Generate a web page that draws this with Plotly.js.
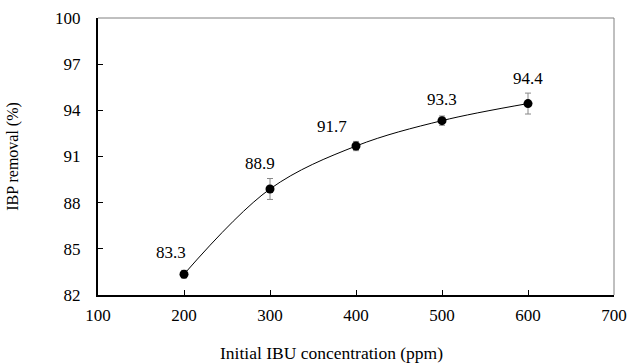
<!DOCTYPE html>
<html>
<head>
<meta charset="utf-8">
<script src="https://cdn.plot.ly/plotly-3.0.1.min.js"></script>
<style>html,body{margin:0;padding:0;background:#fff}#chart{width:628px;height:364px}</style>
</head>
<body>
<div id="chart"></div>
<script>
const concentrations = [200, 300, 400, 500, 600];
const removal = [83.35, 88.89, 91.68, 93.33, 94.44];
const errors = [0.25, 0.68, 0.3, 0.3, 0.68];
const labels = ["83.3", "88.9", "91.7", "93.3", "94.4"];
const xTicks = [100, 200, 300, 400, 500, 600, 700];
const yTicks = [82, 85, 88, 91, 94, 97, 100];
const xTitle = "Initial IBU concentration (ppm)";
const yTitle = "IBP removal (%)";

const labelShift = [[-13, 22], [-10, 25], [-24, 20], [0, 21], [0, 25]];

const font = {family: "Liberation Serif", color: "#000"};

const trace = {
  x: concentrations, y: removal, type: "scatter", mode: "lines+markers",
  line: {shape: "spline", smoothing: 1, color: "#000", width: 1},
  marker: {size: 9, color: "#000"},
  error_y: {type: "data", array: errors, visible: true, color: "#888", thickness: 1, width: 3},
  hoverinfo: "skip", showlegend: false
};

const annotations = concentrations.map((c, i) => ({
  x: c, y: removal[i], text: labels[i], showarrow: false,
  xshift: labelShift[i][0], yshift: labelShift[i][1],
  font: Object.assign({size: 17}, font)
}));
annotations.push({
  xref: "paper", yref: "paper", x: 0.4516, y: -0.209, xanchor: "center", yanchor: "middle",
  text: xTitle, showarrow: false, font: Object.assign({size: 17.5}, font)
});

const layout = {
  width: 628, height: 364,
  margin: {l: 98, r: 14, t: 18, b: 69},
  paper_bgcolor: "#fff", plot_bgcolor: "#fff",
  font: font,
  xaxis: {
    range: [100, 700], tickvals: xTicks,
    ticks: "inside", ticklen: 5, tickcolor: "#000", tickwidth: 1,
    showline: true, linecolor: "#000", linewidth: 2, mirror: false,
    showgrid: false, zeroline: false,
    tickfont: Object.assign({size: 17}, font),
    ticklabelstandoff: 4
  },
  yaxis: {
    range: [82, 100], tickvals: yTicks,
    ticks: "inside", ticklen: 5, tickcolor: "#000", tickwidth: 1,
    showline: true, linecolor: "#000", linewidth: 2,
    showgrid: false, zeroline: false,
    tickfont: Object.assign({size: 17}, font),
    ticklabelstandoff: 12,
    title: {text: yTitle, font: Object.assign({size: 16}, font), standoff: 32}
  },
  shapes: [
    {type: "line", xref: "paper", yref: "paper", x0: 0, x1: 1, y0: 1, y1: 1, line: {color: "#808080", width: 1}},
    {type: "line", xref: "paper", yref: "paper", x0: 1, x1: 1, y0: 0, y1: 1, line: {color: "#808080", width: 1}}
  ],
  annotations: annotations
};

Plotly.newPlot("chart", [trace], layout, {displayModeBar: false, staticPlot: true});
</script>
</body>
</html>
